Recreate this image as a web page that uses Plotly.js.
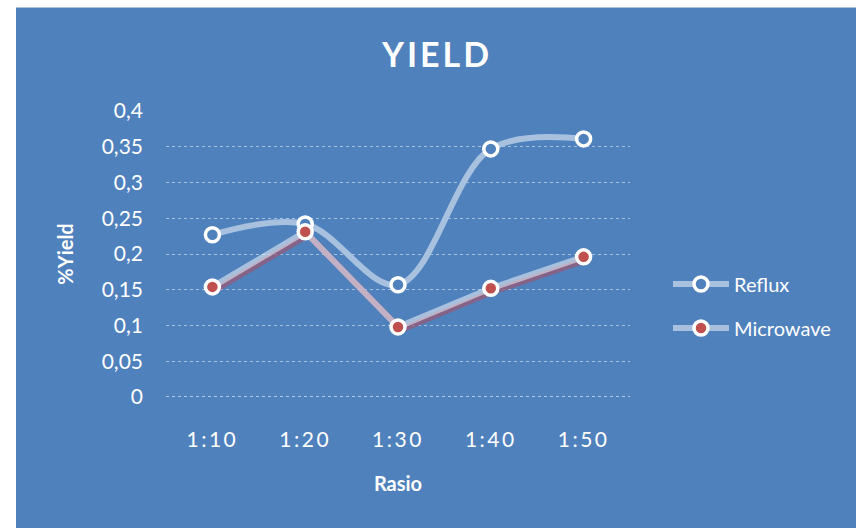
<!DOCTYPE html>
<html>
<head>
<meta charset="utf-8">
<script src="https://cdn.plot.ly/plotly-3.0.1.min.js"></script>
<style>
  html, body { margin: 0; padding: 0; background: #ffffff; }
  #wrap { position: relative; width: 856px; height: 528px; overflow: hidden; }
  #chart { width: 856px; height: 528px; }
  /* white page margin above and left of the chart panel */
  #edge-top { position: absolute; left: 0; top: 0; width: 856px; height: 7px;
              background: #ffffff; border-bottom: 1px solid #A9C0DD; z-index: 5; }
  #edge-left { position: absolute; left: 0; top: 0; width: 16px; height: 528px;
               background: #ffffff; z-index: 6; }
  .gtitle { letter-spacing: 3px; }
  .x2tick text, .xtick text { letter-spacing: 2.5px; }
</style>
</head>
<body>
<div id="wrap">
  <div id="chart"></div>
  <div id="edge-top"></div>
  <div id="edge-left"></div>
</div>
<script>
// Yield per ratio for the two extraction methods
const categories = ['1:10', '1:20', '1:30', '1:40', '1:50'];
const reflux = [0.227, 0.242, 0.157, 0.347, 0.361];
const microwave = [0.154, 0.231, 0.098, 0.152, 0.196];

const BLUE = '#4F81BD';
const RED = '#C0504D';
const FONT = 'Lato, "Open Sans", sans-serif';

// plot area in pixels
const W = 856, H = 528;
const M = { l: 166, r: 226, t: 111, b: 131 };
const plotW = W - M.l - M.r, plotH = H - M.t - M.b;
const yRange = [0, 0.4];
const xRange = [-0.5, categories.length - 0.5];

// pixel -> paper helpers for legend placement
const px = v => (v - M.l) / plotW;
const py = v => (H - M.b - v) / plotH;

// the shadow axes are the same scales nudged a few pixels right and down
const shadowDx = 3, shadowDy = 3;
const xStep = (xRange[1] - xRange[0]) / plotW;
const yStep = (yRange[1] - yRange[0]) / plotH;
const xShadowRange = [xRange[0] - shadowDx * xStep, xRange[1] - shadowDx * xStep];
const yShadowRange = [yRange[0] + shadowDy * yStep, yRange[1] + shadowDy * yStep];

const traces = [
  {
    // drop shadow under the Microwave line
    x: categories, y: microwave, xaxis: 'x', yaxis: 'y',
    type: 'scatter', mode: 'lines', showlegend: false, hoverinfo: 'skip',
    line: { color: 'rgba(150,90,120,0.75)', width: 6 }
  },
  {
    name: 'Reflux', x: categories, y: reflux, xaxis: 'x2', yaxis: 'y2',
    type: 'scatter', mode: 'lines+markers', legend: 'legend',
    line: { color: '#A8C1DF', width: 6, shape: 'spline', smoothing: 1 },
    marker: { size: 14, color: BLUE, line: { color: '#ffffff', width: 3.5 } }
  },
  {
    name: 'Microwave', x: categories, y: microwave, xaxis: 'x2', yaxis: 'y2',
    type: 'scatter', mode: 'lines+markers', legend: 'legend2',
    line: { color: 'rgba(255,255,255,0.5)', width: 6 },
    marker: { size: 14, color: RED, line: { color: '#ffffff', width: 3.5 } }
  }
];

const layout = {
  width: W, height: H,
  margin: M,
  paper_bgcolor: BLUE,
  plot_bgcolor: BLUE,
  separators: ', ',
  font: { family: FONT, color: '#ffffff', size: 20 },
  title: {
    text: '<b>YIELD</b>',
    font: { family: FONT, size: 34, color: '#ffffff' },
    x: 437 / W, xanchor: 'center', y: 1 - 55 / H, yanchor: 'middle'
  },
  xaxis: { type: 'category', range: xShadowRange, visible: false, fixedrange: true },
  yaxis: { range: yShadowRange, visible: false, fixedrange: true },
  xaxis2: {
    type: 'category', overlaying: 'x', range: xRange,
    showgrid: false, zeroline: false, showline: false, ticks: '',
    ticklabelstandoff: 28,
    tickfont: { family: FONT, size: 21, color: '#ffffff' },
    title: { text: '<b>Rasio</b>', font: { family: FONT, size: 20, color: '#ffffff' }, standoff: 26 }
  },
  yaxis2: {
    overlaying: 'y', range: yRange, dtick: 0.05, tick0: 0, side: 'left',
    zeroline: false, showline: false, ticks: '',
    showgrid: true, gridcolor: 'rgba(255,255,255,0.5)', griddash: 'dot', gridwidth: 1,
    ticklabelstandoff: 22,
    tickfont: { family: FONT, size: 21, color: '#ffffff' },
    title: { text: '<b>%Yield</b>', font: { family: FONT, size: 20, color: '#ffffff' }, standoff: 22 }
  },
  legend: {
    x: px(668), xanchor: 'left', y: py(284), yanchor: 'middle',
    bgcolor: 'rgba(0,0,0,0)', itemwidth: 56,
    font: { family: FONT, size: 20, color: '#ffffff' }
  },
  legend2: {
    x: px(668), xanchor: 'left', y: py(328), yanchor: 'middle',
    bgcolor: 'rgba(0,0,0,0)', itemwidth: 56,
    font: { family: FONT, size: 20, color: '#ffffff' }
  },
  shapes: [
    // dotted baseline at zero
    { type: 'line', xref: 'paper', yref: 'y2', layer: 'below',
      x0: 0, x1: 1, y0: 0, y1: 0,
      line: { color: 'rgba(255,255,255,0.75)', width: 1.5, dash: 'dot' } }
  ]
};

Plotly.newPlot('chart', traces, layout, { displayModeBar: false, staticPlot: true });
</script>
</body>
</html>
